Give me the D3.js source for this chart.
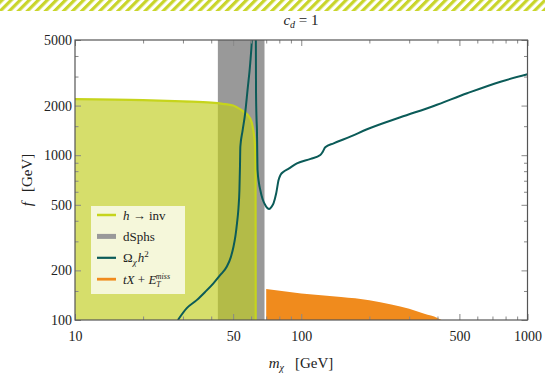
<!DOCTYPE html>
<html>
<head>
<meta charset="utf-8">
<script src="https://cdn.jsdelivr.net/npm/d3@7"></script>
<style>
  body { margin: 0; background: #fff; }
  svg { display: block; font-family: 'Liberation Serif', 'Times New Roman', serif; }
</style>
</head>
<body>
<div id="chart"></div>
<script>
// ---- data (m_chi in GeV, f in GeV) ----
// h -> inv excluded region, upper boundary
const higgsInvMass = [10, 20, 30, 40, 45, 50, 52, 55.6, 59.5, 61.4, 62.5, 62.8, 62.9];
const higgsInvF    = [2190, 2160, 2120, 2085, 2050, 2000, 1950, 1840, 1670, 1420, 1130, 800, 100];

// dwarf spheroidal band
const dSphsRange = [42.8, 68.8];

// relic density curve Omega h^2
const relicMass = [28.5, 31.2, 34.5, 37.6, 40.9, 43.8, 46.9, 48.8, 50.2, 51.2, 52, 52.8, 53.3, 53.6, 53.8,
                   55, 56.5, 57.9, 59.5, 60.5, 61.9,
                   63.0, 63.1, 63.4, 63.7, 64.1, 65.0, 65.9, 67.5, 69.3, 70.8, 72.2, 73.8, 75.4, 77.5, 79.4,
                   81, 83.5, 88, 95.7, 110, 121.4, 124, 127.7, 139, 164.7, 195.3, 274.2, 385, 541, 760, 1000];
const relicF    = [100, 118, 132, 148, 167, 187, 211, 240, 279, 325, 386, 480, 615, 850, 1126,
                   1400, 1796, 2490, 3612, 5000, 12000,
                   5000, 2490, 1700, 1420, 813, 680, 615, 540, 498, 478, 472, 485, 510, 587, 707,
                   760, 794, 830, 893, 950, 1003, 1040, 1116, 1181, 1295, 1436, 1698, 1989, 2375, 2793, 3097];

// tX + E_T^miss excluded region
const monoTopMass = [70, 100, 150, 200, 250, 300, 350, 400, 417];
const monoTopF    = [154, 145, 138, 132, 124, 117, 109, 103, 100];

// axis ticks
const xMajorTicks = [10, 50, 100, 500, 1000];
const xMinorTicks = [20, 30, 40, 60, 70, 80, 90, 200, 300, 400, 600, 700, 800, 900];
const yMajorTicks = [100, 200, 500, 1000, 2000, 5000];
const yMinorTicks = [150, 300, 400, 600, 700, 800, 900, 1500, 3000, 4000];

// ---- colours ----
const colYellowFill = '#c1cd1e';
const colYellowLine = '#c6d41c';
const colGray = '#999999';
const colTeal = '#0b5b58';
const colOrange = '#f08b1d';

const W = 545, H = 376;
const margin = { top: 40, right: 17.5, bottom: 56, left: 75 };
const innerW = W - margin.left - margin.right;
const innerH = H - margin.top - margin.bottom;

const svg = d3.select('#chart').append('svg')
  .attr('width', W)
  .attr('height', H);

const defs = svg.append('defs');

// hatched strip at the very top
const pat = defs.append('pattern')
  .attr('id', 'hatch')
  .attr('patternUnits', 'userSpaceOnUse')
  .attr('width', 6.4)
  .attr('height', 6.4)
  .attr('patternTransform', 'rotate(45)');
pat.append('rect')
  .attr('width', 3.2)
  .attr('height', 6.4)
  .attr('fill', '#c9d52b');

svg.append('rect')
  .attr('x', 0).attr('y', 0)
  .attr('width', W).attr('height', 11)
  .attr('fill', 'url(#hatch)');

defs.append('clipPath')
  .attr('id', 'plot-clip')
  .append('rect')
  .attr('width', innerW)
  .attr('height', innerH);

const g = svg.append('g')
  .attr('transform', `translate(${margin.left},${margin.top})`);

const x = d3.scaleLog().domain([10, 1000]).range([0, innerW]);
const y = d3.scaleLog().domain([100, 5000]).range([innerH, 0]);

const plot = g.append('g').attr('clip-path', 'url(#plot-clip)');

// dSphs band
plot.append('rect')
  .attr('x', x(dSphsRange[0]))
  .attr('y', 0)
  .attr('width', x(dSphsRange[1]) - x(dSphsRange[0]))
  .attr('height', innerH)
  .attr('fill', colGray);

// h -> inv region
const higgsPts = higgsInvMass.map((m, i) => [m, higgsInvF[i]]);
const higgsArea = d3.area()
  .x(d => x(d[0]))
  .y0(innerH)
  .y1(d => y(d[1]))
  .curve(d3.curveMonotoneX);
const higgsLine = d3.line()
  .x(d => x(d[0]))
  .y(d => y(d[1]))
  .curve(d3.curveMonotoneX);

plot.append('path')
  .attr('d', higgsArea(higgsPts))
  .attr('fill', colYellowFill)
  .attr('fill-opacity', 0.66);
plot.append('path')
  .attr('d', higgsLine(higgsPts))
  .attr('fill', 'none')
  .attr('stroke', colYellowLine)
  .attr('stroke-width', 2.2);

// tX + E_T^miss region
const monoPts = monoTopMass.map((m, i) => [m, monoTopF[i]]);
plot.append('path')
  .attr('d', d3.area()
    .x(d => x(d[0]))
    .y0(innerH)
    .y1(d => y(d[1]))
    .curve(d3.curveMonotoneX)(monoPts))
  .attr('fill', colOrange);

// relic density line
const relicPts = relicMass.map((m, i) => [m, relicF[i]]);
plot.append('path')
  .attr('d', higgsLine(relicPts))
  .attr('fill', 'none')
  .attr('stroke', colTeal)
  .attr('stroke-width', 2)
  .attr('stroke-linejoin', 'round');

// ---- axes: ticks pointing inward on all four sides ----
function styleAxis(sel) {
  sel.select('.domain').remove();
  sel.selectAll('line').attr('stroke', '#888');
  sel.selectAll('text')
    .attr('fill', '#222')
    .style('font-family', "'Liberation Serif', serif")
    .style('font-size', '14px');
}

g.append('g').attr('transform', `translate(0,${innerH})`)
  .call(d3.axisBottom(x).tickValues(xMajorTicks).tickSize(-6).tickPadding(11).tickFormat(d3.format('d')))
  .call(styleAxis);
g.append('g').attr('transform', `translate(0,${innerH})`)
  .call(d3.axisBottom(x).tickValues(xMinorTicks).tickSize(-3.5).tickFormat(''))
  .call(styleAxis);
g.append('g')
  .call(d3.axisTop(x).tickValues(xMajorTicks).tickSize(-6).tickFormat(''))
  .call(styleAxis);
g.append('g')
  .call(d3.axisTop(x).tickValues(xMinorTicks).tickSize(-3.5).tickFormat(''))
  .call(styleAxis);

g.append('g')
  .call(d3.axisLeft(y).tickValues(yMajorTicks).tickSize(-6).tickPadding(3).tickFormat(d3.format('d')))
  .call(styleAxis);
g.append('g')
  .call(d3.axisLeft(y).tickValues(yMinorTicks).tickSize(-3.5).tickFormat(''))
  .call(styleAxis);
g.append('g').attr('transform', `translate(${innerW},0)`)
  .call(d3.axisRight(y).tickValues(yMajorTicks).tickSize(-6).tickFormat(''))
  .call(styleAxis);
g.append('g').attr('transform', `translate(${innerW},0)`)
  .call(d3.axisRight(y).tickValues(yMinorTicks).tickSize(-3.5).tickFormat(''))
  .call(styleAxis);

// frame
g.append('rect')
  .attr('width', innerW)
  .attr('height', innerH)
  .attr('fill', 'none')
  .attr('stroke', '#555')
  .attr('stroke-width', 1.2);

// ---- labels ----
const title = svg.append('text')
  .attr('x', 301)
  .attr('y', 25)
  .attr('text-anchor', 'middle')
  .style('font-size', '15px')
  .attr('fill', '#222');
title.append('tspan').style('font-style', 'italic').text('c');
title.append('tspan').style('font-style', 'italic').style('font-size', '10px').attr('dy', 3).text('d');
title.append('tspan').attr('dy', -3).text(' = 1');

const xLabel = svg.append('text')
  .attr('x', 301)
  .attr('y', 368)
  .attr('text-anchor', 'middle')
  .style('font-size', '15px')
  .attr('fill', '#222');
xLabel.append('tspan').style('font-style', 'italic').text('m');
xLabel.append('tspan').style('font-style', 'italic').style('font-size', '10px').attr('dy', 3).text('χ');
xLabel.append('tspan').attr('dy', -3).attr('dx', 11).text('[GeV]');

const yLabel = svg.append('text')
  .attr('transform', `translate(32,${margin.top + innerH / 2}) rotate(-90)`)
  .attr('text-anchor', 'middle')
  .style('font-size', '15px')
  .attr('fill', '#222');
yLabel.append('tspan').style('font-style', 'italic').text('f');
yLabel.append('tspan').attr('dx', 10).text('[GeV]');

// ---- legend ----
const legend = svg.append('g').attr('transform', 'translate(91,206)');
legend.append('rect')
  .attr('width', 94)
  .attr('height', 88)
  .attr('fill', '#fff')
  .attr('fill-opacity', 0.75);

const legendRows = [
  { color: colYellowLine, width: 2.5 },
  { color: colGray, width: 5 },
  { color: colTeal, width: 2.2 },
  { color: colOrange, width: 2.8 }
];
legendRows.forEach((r, i) => {
  const yy = 9 + i * 21.4;
  legend.append('line')
    .attr('x1', 6).attr('x2', 25)
    .attr('y1', yy).attr('y2', yy)
    .attr('stroke', r.color)
    .attr('stroke-width', r.width);
});

function legendText(i) {
  return legend.append('text')
    .attr('x', 32)
    .attr('y', 9 + i * 21.4 + 4.5)
    .style('font-size', '13px')
    .attr('fill', '#222');
}
let t = legendText(0);
t.append('tspan').style('font-style', 'italic').text('h');
t.append('tspan').text(' → inv');

legendText(1).text('dSphs');

t = legendText(2);
t.append('tspan').text('Ω');
t.append('tspan').style('font-style', 'italic').style('font-size', '9px').attr('dy', 3).text('χ');
t.append('tspan').style('font-style', 'italic').attr('dy', -3).attr('dx', 1).text('h');
t.append('tspan').style('font-size', '9px').attr('dy', -5).text('2');

t = legendText(3);
t.append('tspan').style('font-style', 'italic').text('tX');
t.append('tspan').text(' + ');
t.append('tspan').style('font-style', 'italic').text('E');
t.append('tspan').style('font-style', 'italic').style('font-size', '8px').attr('dy', 3).text('T');
t.append('tspan').style('font-style', 'italic').style('font-size', '8px').attr('dy', -8).attr('dx', -5).text('miss');
</script>
</body>
</html>
